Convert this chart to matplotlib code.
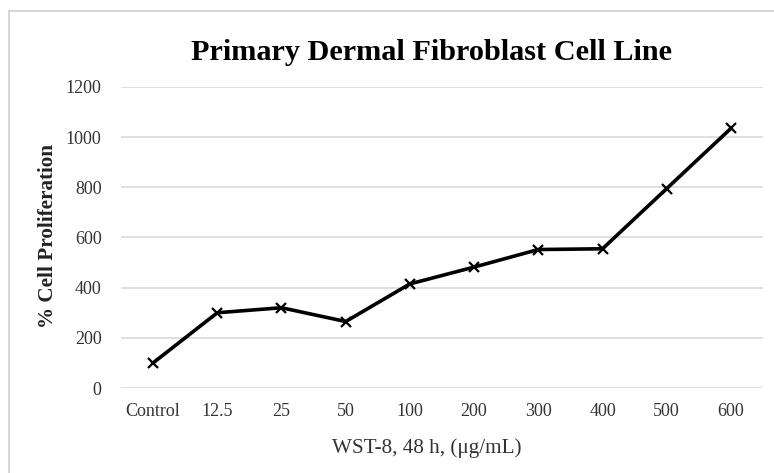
import matplotlib
matplotlib.use("Agg")
import matplotlib.pyplot as plt
from matplotlib.lines import Line2D

# data
categories = ["Control", "12.5", "25", "50", "100", "200", "300", "400", "500", "600"]
proliferation = [100, 300, 320, 265, 415, 482, 552, 555, 795, 1035]
yticks = [0, 200, 400, 600, 800, 1000, 1200]

plt.rcParams['font.family'] = ['Liberation Serif', 'DejaVu Serif']

fig = plt.figure(figsize=(7.74, 4.73), dpi=100)
ax = fig.add_axes([0.1563, 0.1797, 0.8295, 0.6364])

x = list(range(len(categories)))
ax.plot(x, proliferation, color='black', lw=2.6, marker='x', ms=7, mew=1.6, zorder=3)

ax.set_xlim(-0.5, len(categories) - 0.5)
ax.set_ylim(0, 1200)
ax.set_yticks(yticks)
ax.set_xticks(x)
ax.set_xticklabels(categories)
ax.grid(axis='y', color='#d9d9d9', lw=1.2)
ax.set_axisbelow(True)
for s in ax.spines.values():
    s.set_visible(False)
ax.tick_params(axis='both', length=0, labelsize=13, colors='#333333')
ax.tick_params(axis='y', pad=14)
ax.tick_params(axis='x', pad=11)

fig.text(0.558, 0.888, "Primary Dermal Fibroblast Cell Line", ha='center', va='center',
         fontsize=21.8, fontweight='bold', color='black')
fig.text(0.062, 0.501, "% Cell Proliferation", ha='center', va='center', rotation=90,
         fontsize=15.2, fontweight='bold', color='#222222')
fig.text(0.552, 0.053, "WST-8, 48 h, (\u03bcg/mL)", ha='center', va='center',
         fontsize=15.2, color='#333333')

# chart frame (only left/top edges visible in the crop)
fig.add_artist(Line2D([0.0110, 0.0110], [0, 0.9767], color='#d0d0d0', lw=1.2, transform=fig.transFigure))
fig.add_artist(Line2D([0.0110, 1.0], [0.9767, 0.9767], color='#d0d0d0', lw=1.2, transform=fig.transFigure))

fig.savefig("out.png", dpi=100)
